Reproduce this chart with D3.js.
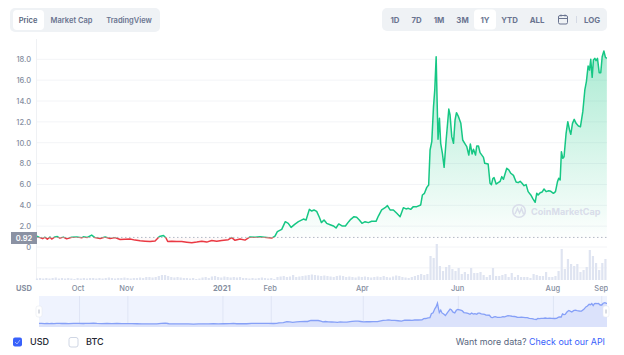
<!DOCTYPE html>
<html><head><meta charset="utf-8">
<script src="https://cdn.jsdelivr.net/npm/d3@7"></script>
<style>
html,body{margin:0;padding:0;background:#fff}
svg{display:block}
text{font-family:Inter,"Noto Sans",sans-serif}
.domain{display:none}
</style></head><body><div id="chart"></div>
<script>
const startDate = "2020-09-05";
const baseline = 0.92;
const priceDays = [0,1.5,3.6,5.1,6.6,8.3,9.4,11.5,13,14.7,16.9,19,22.2,25.4,28.6,29.7,32.2,35,37.1,40.4,43.6,46.8,50,53.2,56.4,59.6,62.8,66,69.2,72.4,75.6,78.4,81,82.6,83.7,86.3,89.5,92.7,95.9,99.1,102.3,105.5,108.7,111.9,115.1,118.3,122.5,124.7,126.8,130,133.2,136.4,139.6,142.8,147.1,150.3,152.4,153.9,156.7,159,160.9,162.7,165.2,167.4,170.6,172.3,174.4,175.9,177.4,179.1,180.8,182.1,183.8,185.5,187.7,189.8,191.5,193.2,195.3,197.5,199.6,200.9,203,204.7,206.4,208.1,210.1,212.2,214.3,217.1,218.6,220.7,222.9,224.4,226.1,228.2,230.4,232.5,234.6,236.3,237.8,239.3,241,243.2,245.7,246.8,248.1,249.6,250.8,251.7,252.8,253.9,254.7,255.6,256.2,256.8,257.7,258.5,259.6,260.7,262,263.7,264.5,265.6,266.7,267.7,268.6,269.9,271.4,272.6,273.9,275.2,276.5,277.5,278.6,279.5,280.8,281.6,282.7,283.7,285.9,286.7,288.9,290.1,291,291.9,292.7,294,295.3,296.6,297.6,298.7,300.8,302.1,303.4,305.1,306.8,308.1,309.4,310.6,311.9,313.2,314.5,316.2,317.5,319,320,320.9,322.2,323.5,324.7,326,327.7,329,330.7,332,333.3,334.1,335,335.8,336.7,337.5,338.8,339.9,341,341.8,342.9,344,345.2,346.7,348,349.5,350.8,351.8,352.9,353.8,354.6,355.5,356.3,357.2,358,358.9,360,361,361.9,363,364,364.9];
const priceValues = [1.04,0.92,0.8,0.94,0.75,0.95,0.76,0.96,1.0,0.85,0.95,0.78,0.93,0.97,0.88,0.98,0.92,1.14,0.9,0.82,0.96,0.82,0.9,0.72,0.74,0.76,0.66,0.6,0.56,0.52,0.58,1.0,1.1,0.86,0.53,0.56,0.53,0.53,0.46,0.4,0.47,0.56,0.47,0.63,0.56,0.63,0.7,0.9,0.64,0.76,0.66,0.96,0.93,0.98,0.92,0.86,1.05,1.47,1.69,2.43,2.27,1.88,2.2,2.43,2.68,2.59,3.61,3.45,3.55,3.42,2.85,2.34,2.59,2.27,2.14,2.02,1.82,2.21,2.02,2.02,2.43,2.65,2.91,2.85,2.59,2.27,2.43,2.34,2.47,2.46,2.97,3.55,3.77,3.97,3.55,3.55,3.23,2.91,3.77,3.65,3.71,3.61,3.87,3.87,4.03,4.99,5.15,5.72,5.95,9.3,10.1,13.46,15.06,18.25,14.1,10.33,12.34,9.94,8.98,7.64,10.26,13.23,12.66,10.58,9.94,12.18,12.88,12.5,11.86,10.26,9.94,9.62,8.82,9.88,8.92,9.37,8.82,9.69,9.69,9.05,8.6,8.03,7.96,6.11,5.98,6.55,6.65,6.04,6.17,6.3,6.75,6.49,7.55,7.39,7.07,6.87,6.24,6.17,6.3,6.11,5.88,5.98,5.31,4.99,4.64,4.29,5.15,4.99,5.21,5.28,5.56,5.31,5.4,5.34,5.15,5.31,6.27,6.59,6.43,9.14,8.5,8.66,10.9,12.02,11.22,10.81,11.86,12.24,11.86,11.6,11.54,12.98,15.06,15.86,17.36,16.97,18,16.27,17.93,18.09,17.87,18.09,16.72,16.72,18.25,18.8,18.19,18.09];
const volumeEveryTwoDays = [1.5,2,1.5,2,1.5,2,2.5,1.5,2,1.5,2,1.5,1,2,1.5,2,1.5,2,2,1.5,2,1.5,2,2.5,2,1.5,2,2,2.5,2,1.5,2,2,2.5,2,3,3,2.5,3,4,5,5,4,3,2.5,3,2.5,2,2,1.5,2,1,1.5,2.5,3,2,3.5,4,3,2.5,3.5,3,2.5,3,2.5,3,2,2,1.5,2,1.5,2,2.5,2,1.5,2,1,3,3.5,4,3,3.5,5,3,3.5,4,4.5,5,5.5,5,4.5,4,4.5,4,3.5,3,4,4.5,4,3,3.5,3,2.5,3.5,3,3.5,3,2.5,3,3.5,3,4,3,2.5,3.5,4.5,4,3,2.5,2,3,4,5,6,5,6,24,22,36,14,9,13,15,11,9,12,6,8,6,12,7,7,8,5,3,5,12,4,4,5,6,3,7,3,5,3,3,3,2,6,5,4,4,8,3,3,4,9,31,11,21,16,14,16,8,10,13,30,24,17,10,17,21];
const yTicks = [0,2,4,6,8,10,12,14,16,18];
const gridValues = [-2,0,2,4,6,8,10,12,14,16,18];
const monthTicks = ["2020-10-01","2020-11-01","2021-01-01","2021-02-01","2021-04-01","2021-06-01","2021-08-01","2021-09-01"];
const monthLabels = ["Oct","Nov","2021","Feb","Apr","Jun","Aug","Sep"];
const chartTabs = ["Price","Market Cap","TradingView"];
const rangeTabs = ["1D","7D","1M","3M","1Y","YTD","ALL"];

const W=624,H=355,L=37,R=607;
const GREEN="#16c784",RED="#ea3943",GREY="#858ea0",INK="#58667e";
const svg=d3.select("#chart").append("svg").attr("width",W).attr("height",H);
const defs=svg.append("defs");
const parse=d3.utcParse("%Y-%m-%d");
const t0=parse(startDate);
const dateOf=d=>new Date(+t0+d*864e5);
const x=d3.scaleUtc().domain([t0,dateOf(365)]).range([L,R]);
const y=d3.scaleLinear().domain([0,18]).range([247,59.3]);
const yVol=d3.scaleLinear().domain([0,36]).range([280,244]);
const data=priceDays.map((d,i)=>({date:dateOf(d),v:priceValues[i]}));
const tickDates=monthTicks.map(parse);
const labelOf=d=>monthLabels[tickDates.findIndex(t=>+t===+d)];

// toolbar
svg.append("rect").attr("x",10).attr("y",8).attr("width",150).attr("height",24).attr("rx",5).attr("fill","#eff2f5");
svg.append("rect").attr("x",13).attr("y",10).attr("width",31).attr("height",20).attr("rx",4).attr("fill","#fff");
[28,71.5,129].forEach((cx,i)=>svg.append("text").attr("x",cx).attr("y",23.2).attr("text-anchor","middle")
  .attr("font-size",7.5).attr("font-weight",600).attr("fill",i?"#6a7490":"#58667e").text(chartTabs[i]));
svg.append("rect").attr("x",382).attr("y",8).attr("width",225).attr("height",23).attr("rx",5).attr("fill","#eff2f5");
svg.append("rect").attr("x",474).attr("y",9.5).attr("width",22).attr("height",20).attr("rx",4).attr("fill","#fff");
[395,416.5,439,462.5,485,509.5,537].forEach((cx,i)=>svg.append("text").attr("x",cx).attr("y",23.2).attr("text-anchor","middle")
  .attr("font-size",7.8).attr("font-weight",700).attr("fill","#6a7490").text(rangeTabs[i]));
const cal=svg.append("g").attr("fill","none").attr("stroke","#6a7490").attr("stroke-width",1);
cal.append("rect").attr("x",558.5).attr("y",15.5).attr("width",9).attr("height",8.5).attr("rx",1.5);
cal.append("path").attr("d","M558.5 18.5H567.5M561 14.5V16.5M565 14.5V16.5");
svg.append("line").attr("x1",576.5).attr("x2",576.5).attr("y1",16).attr("y2",23).attr("stroke","#d5dae5");
svg.append("text").attr("x",592).attr("y",22.5).attr("text-anchor","middle").attr("font-size",7.8).attr("font-weight",700).attr("fill","#6a7490").text("LOG");

// grid + axes
svg.append("g").selectAll("line").data(gridValues).join("line")
  .attr("x1",L).attr("x2",R).attr("y1",d=>y(d)).attr("y2",d=>y(d)).attr("stroke","#f3f4f7").attr("stroke-width",1);
svg.append("line").attr("x1",L-.5).attr("x2",L-.5).attr("y1",39).attr("y2",280).attr("stroke","#eff1f4");
const yAxis=svg.append("g").attr("transform",`translate(${L-6},0)`)
  .call(d3.axisLeft(y).tickValues(yTicks).tickSize(0).tickPadding(0).tickFormat(d=>d===0?"0":d.toFixed(1)));
yAxis.selectAll("text").attr("font-size",7.5).attr("font-weight",500).attr("font-family","Inter").attr("fill",GREY);

// volume
svg.append("g").selectAll("rect").data(volumeEveryTwoDays).join("rect")
  .attr("x",(d,i)=>x(dateOf(i*2))-1.1).attr("width",2.2)
  .attr("y",d=>yVol(d)).attr("height",d=>yVol(0)-yVol(d)).attr("fill","#dfe4f1");

// area + line, split at the baseline
const yb=y(baseline);
const grad=defs.append("linearGradient").attr("id","gg").attr("gradientUnits","userSpaceOnUse").attr("x1",0).attr("x2",0).attr("y1",y(18.8)).attr("y2",yb);
grad.append("stop").attr("offset",0).attr("stop-color",GREEN).attr("stop-opacity",.36);
grad.append("stop").attr("offset",1).attr("stop-color",GREEN).attr("stop-opacity",.01);
defs.append("clipPath").attr("id","above").append("rect").attr("x",0).attr("y",0).attr("width",R).attr("height",yb);
defs.append("clipPath").attr("id","below").append("rect").attr("x",0).attr("y",yb).attr("width",R).attr("height",H-yb);
const area=d3.area().x(d=>x(d.date)).y0(yb).y1(d=>y(d.v));
const line=d3.line().x(d=>x(d.date)).y(d=>y(d.v));
svg.append("path").datum(data).attr("d",area).attr("fill","url(#gg)").attr("clip-path","url(#above)");
svg.append("path").datum(data).attr("d",area).attr("fill",RED).attr("fill-opacity",.03).attr("clip-path","url(#below)");

// watermark
const wm=svg.append("g");
wm.append("circle").attr("cx",519).attr("cy",211).attr("r",6.3).attr("fill","none").attr("stroke","#d9ddea").attr("stroke-width",1.6);
wm.append("path").attr("d","M515 214L517.5 208.5L519.5 213L521.5 208.5L523.5 214").attr("fill","none").attr("stroke","#d9ddea").attr("stroke-width",1.5);
wm.append("text").attr("x",531).attr("y",214.5).attr("font-size",9.1).attr("font-weight",700).attr("fill","#d9ddea").text("CoinMarketCap");

svg.append("line").attr("x1",L).attr("x2",R).attr("y1",yb).attr("y2",yb).attr("stroke","#b3b8c5").attr("stroke-width",1).attr("stroke-dasharray","1.5 2.5");
svg.append("path").datum(data).attr("d",line).attr("fill","none").attr("stroke",GREEN).attr("stroke-width",1.5).attr("stroke-linejoin","round").attr("clip-path","url(#above)");
svg.append("path").datum(data).attr("d",line).attr("fill","none").attr("stroke",RED).attr("stroke-width",1.5).attr("stroke-linejoin","round").attr("clip-path","url(#below)");

// current baseline label
svg.append("rect").attr("x",11).attr("y",232).attr("width",26).attr("height",12).attr("fill","#8b92a3");
svg.append("text").attr("x",24).attr("y",240.7).attr("text-anchor","middle").attr("font-size",7.5).attr("font-weight",600).attr("fill","#fff").text(baseline.toFixed(2));

// time axis
defs.append("clipPath").attr("id","plotclip").append("rect").attr("x",0).attr("y",0).attr("width",R+1).attr("height",H);
const xAxis=svg.append("g").attr("transform","translate(0,285)").attr("clip-path","url(#plotclip)")
  .call(d3.axisBottom(x).tickValues(tickDates).tickSize(0).tickPadding(0).tickFormat(labelOf));
xAxis.selectAll("text").attr("font-size",7.5).attr("font-weight",d=>labelOf(d)==="2021"?700:500).attr("font-family","Inter").attr("fill",GREY).attr("dy",0).attr("y",0).attr("dominant-baseline","hanging");
svg.append("text").attr("x",16).attr("y",291).attr("font-size",7.5).attr("font-weight",700).attr("fill",GREY).text("USD");

// navigator
const mx=d3.scaleUtc().domain([t0,dateOf(365)]).range([39,608]);
const my=d3.scaleLinear().domain([0,18.8]).range([324.5,302.6]);
svg.append("rect").attr("x",39).attr("y",296).attr("width",568).attr("height",31).attr("fill","#eff3fe");
svg.append("g").selectAll("line").data(tickDates).join("line")
  .attr("x1",d=>mx(d)).attr("x2",d=>mx(d)).attr("y1",296).attr("y2",327).attr("stroke","#dfe5f5");
defs.append("clipPath").attr("id","navclip").append("rect").attr("x",39).attr("y",296).attr("width",568).attr("height",31);
svg.append("path").datum(data).attr("clip-path","url(#navclip)").attr("fill","#dbe2fb")
  .attr("d",d3.area().x(d=>mx(d.date)).y0(327).y1(d=>my(d.v)));
const navAxis=svg.append("g").attr("transform","translate(0,317)").attr("clip-path","url(#navclip)")
  .call(d3.axisBottom(mx).tickValues(tickDates).tickSize(0).tickPadding(0).tickFormat(labelOf));
navAxis.selectAll("text").attr("font-size",7.5).attr("font-weight",d=>labelOf(d)==="2021"?700:500).attr("font-family","Inter").attr("fill",GREY).attr("y",0).attr("dy",0).attr("dominant-baseline","hanging");
svg.append("path").datum(data).attr("clip-path","url(#navclip)").attr("fill","none").attr("stroke","#86a0f7").attr("stroke-width",1.3)
  .attr("d",d3.line().x(d=>mx(d.date)).y(d=>my(d.v)));
[[36,306],[603,306]].forEach(([hx,hy])=>{
  svg.append("rect").attr("x",hx).attr("y",hy).attr("width",6).attr("height",11).attr("rx",2).attr("fill","#fff").attr("stroke","#e3e6ee").attr("stroke-width",.5);
  svg.append("line").attr("x1",hx+3).attr("x2",hx+3).attr("y1",hy+3.5).attr("y2",hy+7.5).attr("stroke","#b4bac8");
});

// footer
svg.append("rect").attr("x",13).attr("y",337.5).attr("width",9).attr("height",9).attr("rx",2).attr("fill","#3861fb");
svg.append("path").attr("d","M15 342L17 344L20 340").attr("fill","none").attr("stroke","#9db2fb").attr("stroke-width",1);
svg.append("rect").attr("x",69).attr("y",337.5).attr("width",9).attr("height",9.5).attr("rx",2).attr("fill","#fff").attr("stroke","#cfd6e4");
svg.append("text").attr("x",30).attr("y",345).attr("font-size",9).attr("font-weight",500).attr("fill","#222531").text("USD");
svg.append("text").attr("x",86).attr("y",345).attr("font-size",9).attr("font-weight",500).attr("fill","#222531").text("BTC");
const foot=svg.append("text").attr("x",605).attr("y",344.5).attr("text-anchor","end").attr("font-size",8.9);
foot.append("tspan").attr("fill","#58667e").text("Want more data? ");
foot.append("tspan").attr("fill","#3861fb").text("Check out our API");
</script></body></html>
